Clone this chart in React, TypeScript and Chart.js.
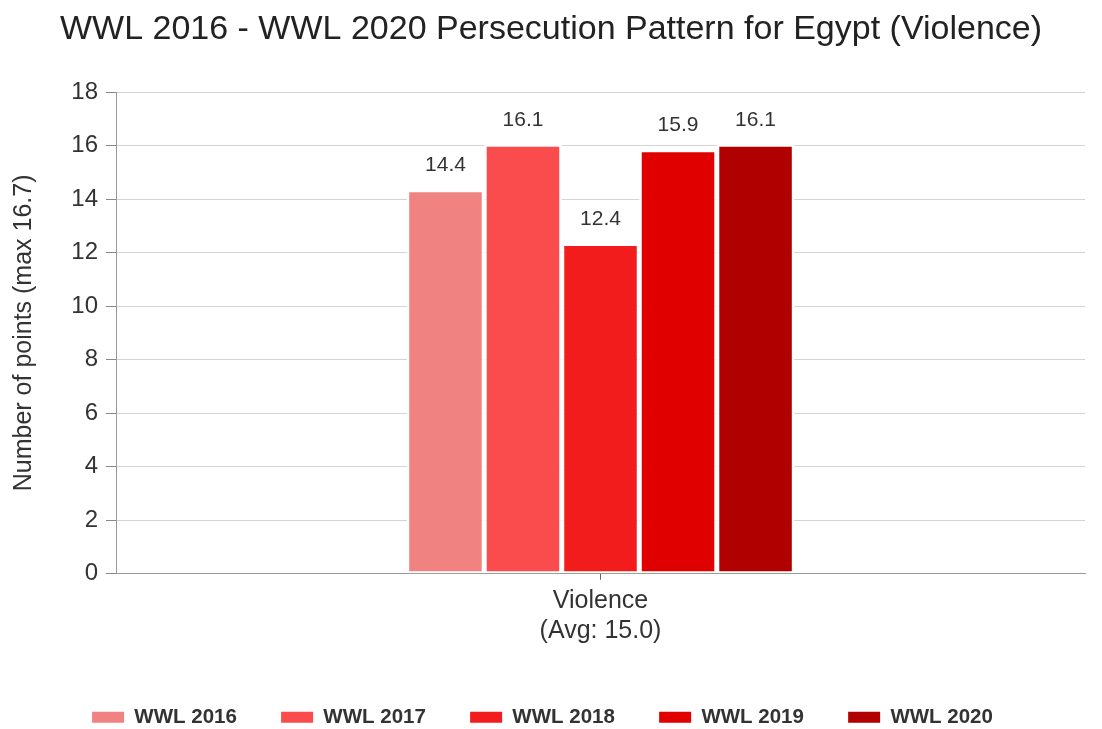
import React, { useEffect, useRef } from "react";
import { Chart, registerables } from "chart.js";

Chart.register(...registerables);

const categories: string[][] = [["Violence", "(Avg: 15.0)"]];
const seriesLabels: string[] = ["WWL 2016", "WWL 2017", "WWL 2018", "WWL 2019", "WWL 2020"];
const seriesValues: number[] = [14.4, 16.1, 12.4, 15.9, 16.1];
const seriesColors: string[] = ["#F08282", "#FA4C4C", "#F21C1C", "#E00000", "#B00000"];
const yMin = 0;
const yMax = 18;
const yStep = 2;
const chartTitle = "WWL 2016 - WWL 2020 Persecution Pattern for Egypt (Violence)";
const yAxisTitle = "Number of points (max 16.7)";

const FONT = "'Liberation Sans', Arial, sans-serif";

const valueLabels = {
  id: "valueLabels",
  afterLayout(chart: any) {
    // let the title centre on the full canvas width
    if (chart.titleBlock) chart.titleBlock.right = chart.width;
  },
  afterDatasetsDraw(chart: any) {
    const ctx = chart.ctx;
    ctx.save();
    ctx.font = `21px ${FONT}`;
    ctx.fillStyle = "#333333";
    ctx.textAlign = "center";
    ctx.textBaseline = "middle";
    chart.data.datasets.forEach((ds: any, i: number) => {
      const meta = chart.getDatasetMeta(i);
      meta.data.forEach((el: any, j: number) => {
        const v = ds.data[j];
        ctx.fillText(Number(v).toFixed(1), el.x, el.y - 23);
      });
    });
    ctx.restore();
  },
};

export default function App() {
  const ref = useRef<HTMLCanvasElement | null>(null);

  useEffect(() => {
    if (!ref.current) return;
    const chart = new Chart(ref.current, {
      type: "bar",
      data: {
        labels: categories,
        datasets: seriesLabels.map((label, i) => ({
          label,
          data: [seriesValues[i]],
          backgroundColor: seriesColors[i],
          borderColor: "#ffffff",
          borderWidth: { top: 4, left: 2.5, right: 2.5, bottom: 2 },
          borderSkipped: false,
          categoryPercentage: 0.4,
          barPercentage: 1,
        })),
      },
      options: {
        animation: false,
        responsive: false,
        layout: { padding: { left: 0, right: 17, top: 0, bottom: 2.5 } },
        plugins: {
          tooltip: { enabled: false },
          title: {
            display: true,
            text: chartTitle,
            align: "center",
            color: "#222222",
            font: { family: FONT, size: 34, weight: "normal", lineHeight: 1.2 },
            padding: { top: 9, bottom: 42.2 },
          },
          legend: {
            display: true,
            position: "bottom",
            labels: {
              boxWidth: 32,
              boxHeight: 11,
              padding: 44.25,
              color: "#333333",
              font: { family: FONT, size: 20.5, weight: "bold" },
              generateLabels: (c: any) =>
                Chart.defaults.plugins.legend.labels
                  .generateLabels(c)
                  .map((l: any) => ({ ...l, lineWidth: 0, strokeStyle: l.fillStyle })),
            },
          },
        },
        scales: {
          x: {
            afterFit: (s: any) => {
              s.height = 89;
            },
            grid: {
              display: true,
              offset: false,
              drawOnChartArea: false,
              drawTicks: true,
              tickLength: 6,
              tickColor: "#666666",
            },
            border: { display: true, color: "#999999", width: 1 },
            ticks: {
              color: "#333333",
              padding: 6,
              font: { family: FONT, size: 25, lineHeight: 1.2 },
            },
          },
          y: {
            min: yMin,
            max: yMax,
            afterFit: (s: any) => {
              s.width = 116;
            },
            grid: {
              color: "#d4d4d4",
              tickColor: "#888888",
              tickLength: 10,
              drawTicks: true,
            },
            border: { display: true, color: "#999999", width: 1 },
            ticks: {
              stepSize: yStep,
              color: "#333333",
              padding: 8,
              font: { family: FONT, size: 24 },
            },
            title: {
              display: true,
              text: yAxisTitle,
              color: "#333333",
              font: { family: FONT, size: 25, lineHeight: 1.2 },
              padding: { top: 9, bottom: 0 },
            },
          },
        },
      },
      plugins: [valueLabels],
    });
    return () => chart.destroy();
  }, []);

  return (
    <div
      style={{
        position: "fixed",
        left: 0,
        top: 0,
        width: 1102,
        height: 729,
        overflow: "hidden",
        background: "#ffffff",
      }}
    >
      <canvas ref={ref} width={1102} height={740} style={{ display: "block" }} />
    </div>
  );
}
